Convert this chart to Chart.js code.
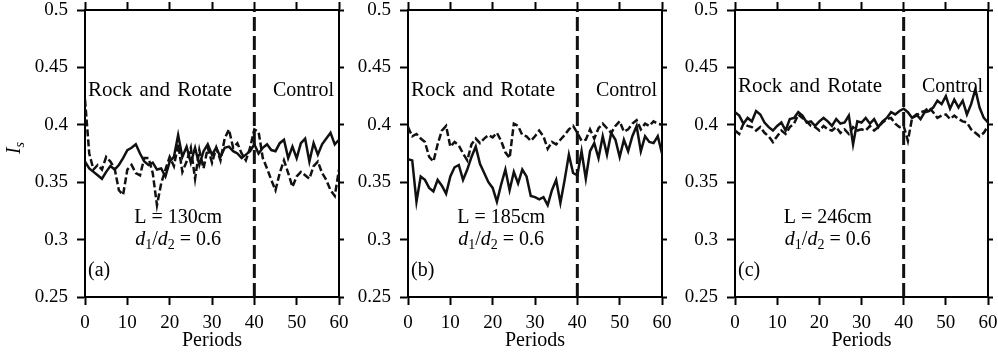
<!DOCTYPE html>
<html>
<head>
<meta charset="utf-8">
<script src="https://cdn.jsdelivr.net/npm/chart.js@4.4.0/dist/chart.umd.min.js"></script>
<style>
body { margin: 0; background: #fff; }
#wrap { position: relative; width: 998px; height: 362px; }
canvas { position: absolute; top: 0; }
</style>
</head>
<body>
<div id="wrap">
  <canvas id="chartA" width="355" height="362" style="left:0px"></canvas>
  <canvas id="chartB" width="340" height="362" style="left:340px"></canvas>
  <canvas id="chartC" width="330" height="362" style="left:668px"></canvas>
</div>
<script>
const periods = [0,1,2,3,4,5,6,7,8,9,10,11,12,13,14,15,16,17,18,19,20,21,22,23,24,25,26,27,28,29,30,
  31,32,33,34,35,36,37,38,39,40,41,42,43,44,45,46,47,48,49,50,51,52,53,54,55,56,57,58,59,60];
const periodTicks = [0, 10, 20, 30, 40, 50, 60];
const yTicks = [0.25, 0.3, 0.35, 0.4, 0.45, 0.5];
const splitPeriod = 40;

// L = 130cm
const solidA = [0.368,0.362,0.359,0.356,0.353,0.359,0.364,0.361,0.365,0.371,
  0.378,0.380,0.383,0.375,0.368,0.365,0.367,0.361,0.362,0.355,
  0.368,0.372,0.391,0.372,0.381,0.367,0.380,0.365,0.377,0.383,
  0.374,0.380,0.372,0.380,0.381,0.377,0.375,0.371,0.374,0.377,
  0.383,0.375,0.380,0.383,0.378,0.377,0.384,0.387,0.371,0.381,
  0.371,0.384,0.388,0.368,0.384,0.374,0.383,0.388,0.393,0.383,0.387];
const dashedA = [0.422,0.375,0.361,0.365,0.361,0.372,0.368,0.362,0.343,0.339,
  0.361,0.365,0.358,0.356,0.371,0.371,0.358,0.330,0.349,0.361,
  0.372,0.364,0.383,0.359,0.368,0.380,0.353,0.378,0.362,0.380,
  0.367,0.380,0.369,0.388,0.396,0.380,0.384,0.375,0.369,0.380,
  0.396,0.394,0.371,0.362,0.352,0.343,0.358,0.369,0.358,0.346,
  0.355,0.359,0.356,0.353,0.364,0.368,0.358,0.352,0.343,0.338,0.361];

// L = 185cm
const solidB = [0.370,0.369,0.333,0.355,0.352,0.345,0.342,0.352,0.347,0.340,
  0.355,0.363,0.365,0.352,0.361,0.372,0.381,0.366,0.358,0.350,
  0.345,0.333,0.348,0.361,0.343,0.359,0.349,0.361,0.355,0.338,
  0.337,0.335,0.337,0.330,0.343,0.352,0.332,0.352,0.374,0.358,
  0.356,0.377,0.353,0.377,0.384,0.371,0.390,0.374,0.393,0.387,
  0.372,0.387,0.377,0.390,0.399,0.377,0.390,0.385,0.384,0.390,0.375];
const dashedB = [0.398,0.390,0.392,0.388,0.385,0.372,0.368,0.383,0.395,0.399,
  0.381,0.385,0.382,0.375,0.369,0.383,0.388,0.384,0.388,0.391,
  0.389,0.393,0.386,0.376,0.371,0.401,0.399,0.391,0.390,0.386,
  0.390,0.395,0.390,0.379,0.385,0.383,0.387,0.391,0.396,0.399,
  0.393,0.386,0.387,0.396,0.388,0.397,0.401,0.397,0.393,0.399,
  0.403,0.394,0.396,0.401,0.404,0.396,0.401,0.399,0.403,0.401,0.400];

// L = 246cm
const solidC = [0.411,0.408,0.401,0.406,0.403,0.412,0.409,0.402,0.398,0.395,
  0.399,0.402,0.395,0.405,0.406,0.411,0.408,0.402,0.403,0.399,
  0.403,0.406,0.403,0.399,0.405,0.401,0.402,0.408,0.383,0.403,
  0.402,0.406,0.401,0.405,0.398,0.403,0.406,0.411,0.409,0.412,
  0.414,0.411,0.406,0.409,0.405,0.411,0.412,0.415,0.421,0.418,
  0.425,0.414,0.422,0.415,0.421,0.409,0.418,0.431,0.415,0.406,0.402];
const dashedC = [0.395,0.392,0.401,0.399,0.398,0.395,0.398,0.393,0.390,0.385,
  0.390,0.395,0.392,0.398,0.401,0.409,0.406,0.403,0.399,0.398,
  0.395,0.399,0.396,0.395,0.398,0.393,0.396,0.392,0.398,0.395,
  0.396,0.395,0.399,0.395,0.398,0.402,0.405,0.406,0.401,0.398,
  0.399,0.386,0.406,0.408,0.411,0.412,0.415,0.411,0.406,0.408,
  0.409,0.405,0.408,0.405,0.403,0.402,0.396,0.393,0.390,0.393,0.399];

const lengthLabels = ['L = 130cm', 'L = 185cm', 'L = 246cm'];
const panelTags = ['(a)', '(b)', '(c)'];

const serif = '"Liberation Serif", "Times New Roman", serif';

// draw a run of text pieces: [text, italic, subscript]
function drawRich(ctx, parts, x, y, size, align) {
  const fontOf = p => (p[1] ? 'italic ' : '') + (p[2] ? Math.round(size * 0.72) : size) + 'px ' + serif;
  let total = 0;
  parts.forEach(p => { ctx.font = fontOf(p); total += ctx.measureText(p[0]).width; });
  let cx = align === 'center' ? x - total / 2 : align === 'right' ? x - total : x;
  ctx.textAlign = 'left';
  ctx.textBaseline = 'alphabetic';
  parts.forEach(p => {
    ctx.font = fontOf(p);
    ctx.fillText(p[0], cx, p[2] ? y + size * 0.22 : y);
    cx += ctx.measureText(p[0]).width;
  });
}

const notesPlugin = {
  id: 'notes',
  afterDraw(chart, args, opts) {
    const { ctx, chartArea: ca, scales } = chart;
    ctx.save();
    ctx.fillStyle = '#000';
    ctx.wordSpacing = '2px';
    drawRich(ctx, [['Rock and Rotate']], ca.left + 3, opts.phaseY, 21, 'left');
    ctx.wordSpacing = '0px';
    drawRich(ctx, [['Control']], ca.right - 5, opts.phaseY, 20, 'right');
    const cx = scales.x.getPixelForValue(22);
    drawRich(ctx, [[opts.length]], cx, scales.y.getPixelForValue(0.3146), 20, 'center');
    drawRich(ctx, [['d', 1], ['1', 0, 1], ['/'], ['d', 1], ['2', 0, 1], [' = 0.6']],
      cx, scales.y.getPixelForValue(0.2955), 20, 'center');
    drawRich(ctx, [[opts.tag]], ca.left + 3, scales.y.getPixelForValue(0.2685), 20, 'left');
    if (opts.yTitle) {
      ctx.translate(20, 148);
      ctx.rotate(-Math.PI / 2);
      drawRich(ctx, [['I', 1], ['s', 1, 1]], 0, 0, 20, 'center');
    }
    ctx.restore();
  }
};

function makePanel(id, solid, dashed, o) {
  const pts = arr => arr.map((v, i) => ({ x: periods[i], y: v }));
  const edge = (len) => ({ drawOnChartArea: false, tickLength: len, tickWidth: 2, tickColor: '#000' });
  const border = { color: '#000', width: 2 };
  return new Chart(document.getElementById(id), {
    type: 'line',
    data: {
      datasets: [
        { data: pts(solid), borderColor: '#111', borderWidth: 2.5, pointRadius: 0, tension: 0 },
        { data: pts(dashed), borderColor: '#111', borderWidth: 2.5, borderDash: [7, 3], pointRadius: 0, tension: 0 },
        { data: [{ x: splitPeriod, y: yTicks[0] }, { x: splitPeriod, y: yTicks[yTicks.length - 1] }],
          borderColor: '#111', borderWidth: 3, borderDash: [14, 5], pointRadius: 0 }
      ]
    },
    options: {
      responsive: false,
      animation: false,
      devicePixelRatio: 1,
      layout: { padding: 0 },
      plugins: {
        legend: { display: false },
        tooltip: { enabled: false },
        notes: { phaseY: o.phaseY, length: o.length, tag: o.tag, yTitle: o.yTitle }
      },
      scales: {
        x: {
          type: 'linear', position: 'bottom', min: 0, max: 60,
          afterBuildTicks: s => { s.ticks = periodTicks.map(v => ({ value: v })); },
          afterFit: s => { s.height = 65; s.paddingLeft = 0; s.paddingRight = 0; },
          grid: edge(8), border,
          ticks: { color: '#000', font: { family: serif, size: 19 }, padding: 7, maxRotation: 0, autoSkip: false },
          title: { display: true, text: 'Periods', color: '#000', font: { family: serif, size: 20 }, padding: { top: 0, bottom: 9 } }
        },
        x2: {
          type: 'linear', position: 'top', min: 0, max: 60,
          afterBuildTicks: s => { s.ticks = periodTicks.map(v => ({ value: v })); },
          afterFit: s => { s.height = 10; s.paddingLeft = 0; s.paddingRight = 0; },
          grid: edge(8), border, ticks: { display: false }
        },
        y: {
          type: 'linear', position: 'left', min: 0.25, max: 0.5,
          afterBuildTicks: s => { s.ticks = yTicks.map(v => ({ value: v })); },
          afterFit: s => { s.width = o.left; s.paddingTop = 0; s.paddingBottom = 0; },
          grid: edge(8), border,
          ticks: { color: '#000', font: { family: serif, size: 19 }, padding: 9, callback: v => String(+v.toFixed(2)) }
        },
        y2: {
          type: 'linear', position: 'right', min: 0.25, max: 0.5,
          afterBuildTicks: s => { s.ticks = yTicks.map(v => ({ value: v })); },
          afterFit: s => { s.width = o.right; s.paddingTop = 0; s.paddingBottom = 0; },
          grid: edge(5), border, ticks: { display: false }
        }
      }
    },
    plugins: [notesPlugin]
  });
}

makePanel('chartA', solidA, dashedA, { left: 85, right: 16, phaseY: 96, length: lengthLabels[0], tag: panelTags[0], yTitle: true });
makePanel('chartB', solidB, dashedB, { left: 68, right: 18, phaseY: 96, length: lengthLabels[1], tag: panelTags[1] });
makePanel('chartC', solidC, dashedC, { left: 67, right: 10, phaseY: 92, length: lengthLabels[2], tag: panelTags[2] });
</script>
</body>
</html>
